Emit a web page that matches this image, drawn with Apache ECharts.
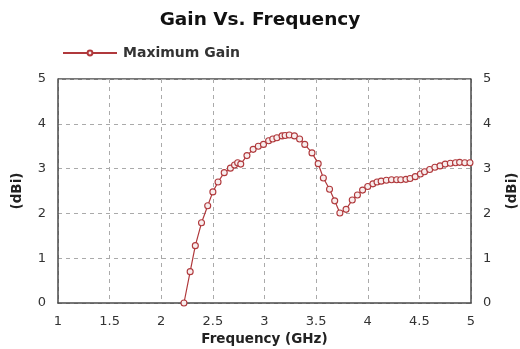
<!DOCTYPE html>
<html>
<head>
<meta charset="utf-8">
<script src="https://cdn.jsdelivr.net/npm/echarts@6/dist/echarts.min.js"></script>
<style>
  html, body { margin: 0; padding: 0; background: #fff; }
  #chart { width: 520px; height: 349px; }
</style>
</head>
<body>
<div id="chart"></div>
<script>
// Frequency sweep (GHz) and the maximum gain measured at each step (dBi)
const frequency = [
  2.22, 2.28, 2.33, 2.39, 2.45, 2.50, 2.55, 2.61, 2.67, 2.71,
  2.74, 2.77, 2.83, 2.89, 2.94, 2.99, 3.04, 3.08, 3.12, 3.17,
  3.20, 3.24, 3.29, 3.34, 3.39, 3.46, 3.52, 3.57, 3.63, 3.68,
  3.73, 3.79, 3.85, 3.90, 3.95, 4.00, 4.05, 4.09, 4.13, 4.18,
  4.23, 4.28, 4.32, 4.37, 4.41, 4.46, 4.51, 4.55, 4.60, 4.65,
  4.70, 4.75, 4.80, 4.85, 4.89, 4.94, 4.99
];
const maxGain = [
  0.00, 0.70, 1.28, 1.79, 2.17, 2.48, 2.70, 2.91, 3.01, 3.08,
  3.13, 3.10, 3.29, 3.43, 3.50, 3.54, 3.62, 3.66, 3.69, 3.73,
  3.74, 3.75, 3.73, 3.66, 3.54, 3.35, 3.11, 2.79, 2.54, 2.28,
  2.01, 2.09, 2.30, 2.41, 2.52, 2.60, 2.66, 2.70, 2.72, 2.74,
  2.75, 2.75, 2.75, 2.76, 2.78, 2.82, 2.88, 2.93, 2.98, 3.03,
  3.06, 3.10, 3.12, 3.13, 3.14, 3.13, 3.13
];
const xTicks = [1, 1.5, 2, 2.5, 3, 3.5, 4, 4.5, 5];
const yTicks = [0, 1, 2, 3, 4, 5];

const FONT = '"DejaVu Sans", Verdana, sans-serif';
const lineColor = '#b0393c';
const frameColor = '#4a4a4a';

const chart = echarts.init(document.getElementById('chart'), null, { renderer: 'canvas' });

const yAxisCommon = {
  type: 'value',
  min: yTicks[0],
  max: yTicks[yTicks.length - 1],
  interval: 1,
  nameLocation: 'middle',
  nameRotate: 90,
  nameGap: 34,
  nameTextStyle: { fontFamily: FONT, fontWeight: 'bold', fontSize: 13.5, color: '#222' },
  axisLine: { show: true, lineStyle: { color: frameColor, width: 1.5 } },
  axisTick: { show: false },
  axisLabel: { fontFamily: FONT, fontSize: 13, color: '#333', margin: 12 }
};

chart.setOption({
  animation: false,
  backgroundColor: '#fff',
  title: {
    text: 'Gain Vs. Frequency',
    left: 'center',
    top: 6,
    textStyle: { fontFamily: FONT, fontWeight: 'bold', fontSize: 18.5, color: '#111' }
  },
  legend: {
    left: 57,
    top: 41,
    itemWidth: 54,
    itemHeight: 6,
    itemGap: 12,
    textStyle: { fontFamily: FONT, fontWeight: 'bold', fontSize: 14, color: '#333', padding: [0, 0, 0, 1] },
    data: ['Maximum Gain']
  },
  grid: { left: 58, right: 49, top: 79, bottom: 46, outerBoundsMode: 'none', containLabel: false },
  xAxis: {
    type: 'value',
    min: xTicks[0],
    max: xTicks[xTicks.length - 1],
    interval: 0.5,
    name: 'Frequency (GHz)',
    nameLocation: 'middle',
    nameGap: 29,
    nameTextStyle: { fontFamily: FONT, fontWeight: 'bold', fontSize: 13.5, color: '#222' },
    axisLine: { show: true, onZero: false, lineStyle: { color: frameColor, width: 1.5 } },
    axisTick: { show: false },
    axisLabel: { fontFamily: FONT, fontSize: 13, color: '#333', margin: 12 },
    splitLine: { show: true, lineStyle: { color: '#aaa', type: [4, 4], width: 1 } }
  },
  yAxis: [
    Object.assign({}, yAxisCommon, {
      name: '(dBi)',
      position: 'left',
      splitLine: { show: true, lineStyle: { color: '#aaa', type: [4, 4], width: 1 } }
    }),
    Object.assign({}, yAxisCommon, {
      name: '(dBi)',
      position: 'right',
      splitLine: { show: false }
    })
  ],
  series: [{
    name: 'Maximum Gain',
    type: 'line',
    data: frequency.map((f, i) => [f, maxGain[i]]),
    symbol: 'circle',
    symbolSize: 6,
    showAllSymbol: true,
    lineStyle: { color: lineColor, width: 1.2 },
    itemStyle: { color: '#f8eded', borderColor: lineColor, borderWidth: 1.1 },
    emphasis: { disabled: true }
  }],
  graphic: [{
    // top edge of the plot frame
    type: 'line',
    shape: { x1: 58, y1: 79, x2: 471, y2: 79 },
    style: { stroke: frameColor, lineWidth: 1.5 },
    silent: true
  }]
});
</script>
</body>
</html>
